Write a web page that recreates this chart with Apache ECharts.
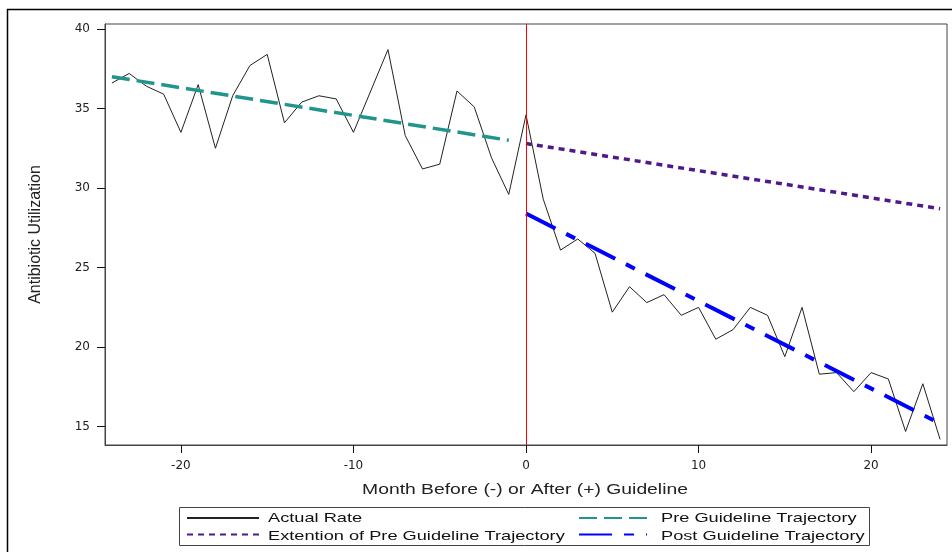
<!DOCTYPE html>
<html>
<head>
<meta charset="utf-8">
<script src="https://cdn.jsdelivr.net/npm/echarts@6/dist/echarts.min.js"></script>
<style>html,body{margin:0;padding:0;background:#fff}#c{width:952px;height:552px}</style>
</head>
<body>
<div id="c"></div>
<script>
// Months relative to guideline
const months = [-24,-23,-22,-21,-20,-19,-18,-17,-16,-15,-14,-13,-12,-11,-10,-9,-8,-7,-6,-5,-4,-3,-2,-1,0,
  1,2,3,4,5,6,7,8,9,10,11,12,13,14,15,16,17,18,19,20,21,22,23,24];
const actualRate = [36.6,37.2,36.4,35.9,33.5,36.5,32.5,35.8,37.7,38.4,34.1,35.4,35.8,35.6,33.5,36.1,38.7,33.3,31.2,31.5,36.1,35.1,31.9,29.6,34.6,
  29.3,26.1,26.8,25.9,22.2,23.8,22.8,23.3,22.0,22.5,20.5,21.1,22.5,22.0,19.4,22.5,18.3,18.4,17.2,18.4,18.0,14.7,17.7,14.2];
const preMonths = [-24,-1];
const preTrajectory = [37.0,33.0];
const extMonths = [0,24];
const extTrajectory = [32.8,28.7];
const postMonths = [0,24];
const postTrajectory = [28.4,15.2];
const xTicks = [-20,-10,0,10,20];
const yTicks = [15,20,25,30,35,40];
const seriesNames = ['Actual Rate', 'Pre Guideline Trajectory', 'Extention of Pre Guideline Trajectory', 'Post Guideline Trajectory'];
const xTitle = 'Month Before (-) or After (+) Guideline';
const yTitle = 'Antibiotic Utilization';

const pair = (xs, ys) => xs.map((x, i) => [x, ys[i]]);
const FONT = "'Liberation Sans', Arial, sans-serif";
const TICKFONT = "'DejaVu Sans', sans-serif";

const chart = echarts.init(document.getElementById('c'), null, {renderer: 'canvas'});
const legendCommon = {orient: 'vertical', padding: 0, itemHeight: 14, itemGap: 4,
  itemStyle: {opacity: 0}, formatter: () => '', textStyle: {fontSize: 1}, selectedMode: false};
const legendText = (txt, x, y) => ({type: 'text', x: x, y: y, scaleX: 1.4, silent: true,
  style: {text: txt, font: '13px ' + FONT, fill: '#111', textVerticalAlign: 'middle', textAlign: 'left'}});
const tickStyle = {show: true, inside: false, length: 8, lineStyle: {color: '#111', width: 1}};

chart.setOption({
  animation: false,
  backgroundColor: '#fff',
  grid: {left: 105, right: 5, top: 24, bottom: 107, show: true, borderColor: '#444', borderWidth: 1},
  xAxis: {
    type: 'value', min: -24.4, max: 24.4,
    splitLine: {show: false},
    axisLine: {onZero: false, lineStyle: {color: '#444', width: 1}},
    axisTick: Object.assign({customValues: xTicks}, tickStyle),
    axisLabel: {customValues: xTicks, margin: 15, fontFamily: TICKFONT, fontSize: 12, color: '#222'}
  },
  yAxis: {
    type: 'value', min: 13.85, max: 40.31,
    name: yTitle,
    nameLocation: 'middle', nameGap: 61, nameRotate: 90,
    nameTextStyle: {fontFamily: FONT, fontSize: 16, color: '#222'},
    splitLine: {show: false},
    axisLine: {onZero: false, lineStyle: {color: '#444', width: 1}},
    axisTick: Object.assign({customValues: yTicks}, tickStyle),
    axisLabel: {customValues: yTicks, margin: 15, fontFamily: TICKFONT, fontSize: 12, color: '#222'}
  },
  legend: [
    Object.assign({left: 186, top: 511, itemWidth: 72, data: [seriesNames[0], seriesNames[2]]}, legendCommon),
    Object.assign({left: 578, top: 511, itemWidth: 68, data: [seriesNames[1], seriesNames[3]]}, legendCommon)
  ],
  graphic: [
    {type: 'rect', shape: {x: 7.5, y: 9.5, width: 1000, height: 1000}, style: {fill: 'none', stroke: '#000', lineWidth: 1.5}, silent: true},
    {type: 'rect', shape: {x: 179.5, y: 507.5, width: 690, height: 38}, style: {fill: 'none', stroke: '#444', lineWidth: 1}, silent: true},
    {type: 'text', x: 525, y: 490, scaleX: 1.38, silent: true,
     style: {text: xTitle, font: '14px ' + FONT, fill: '#222', textAlign: 'center', textVerticalAlign: 'middle'}},
    legendText(seriesNames[0], 268, 518),
    legendText(seriesNames[2], 268, 536),
    legendText(seriesNames[1], 661, 518),
    legendText(seriesNames[3], 661, 536)
  ],
  series: [
    {name: seriesNames[0], type: 'line', data: pair(months, actualRate), symbol: 'none',
     lineStyle: {color: '#222', width: 1}, itemStyle: {color: '#222'}, z: 3,
     markLine: {silent: true, symbol: 'none', label: {show: false},
       lineStyle: {color: '#ff0000', width: 1, type: 'solid'}, data: [{xAxis: 0}]}},
    {name: seriesNames[1], type: 'line', data: pair(preMonths, preTrajectory), symbol: 'none',
     lineStyle: {color: '#1f958b', width: 3.5, type: [18, 7]}, itemStyle: {color: '#1f958b'}, z: 4},
    {name: seriesNames[2], type: 'line', data: pair(extMonths, extTrajectory), symbol: 'none',
     lineStyle: {color: '#4e1a8a', width: 3.5, type: [6, 5]}, itemStyle: {color: '#4e1a8a'}, z: 4},
    {name: seriesNames[3], type: 'line', data: pair(postMonths, postTrajectory), symbol: 'none',
     lineStyle: {color: '#0000ff', width: 4, type: [33, 12, 10, 12]}, itemStyle: {color: '#0000ff'}, z: 4}
  ]
});
</script>
</body>
</html>
